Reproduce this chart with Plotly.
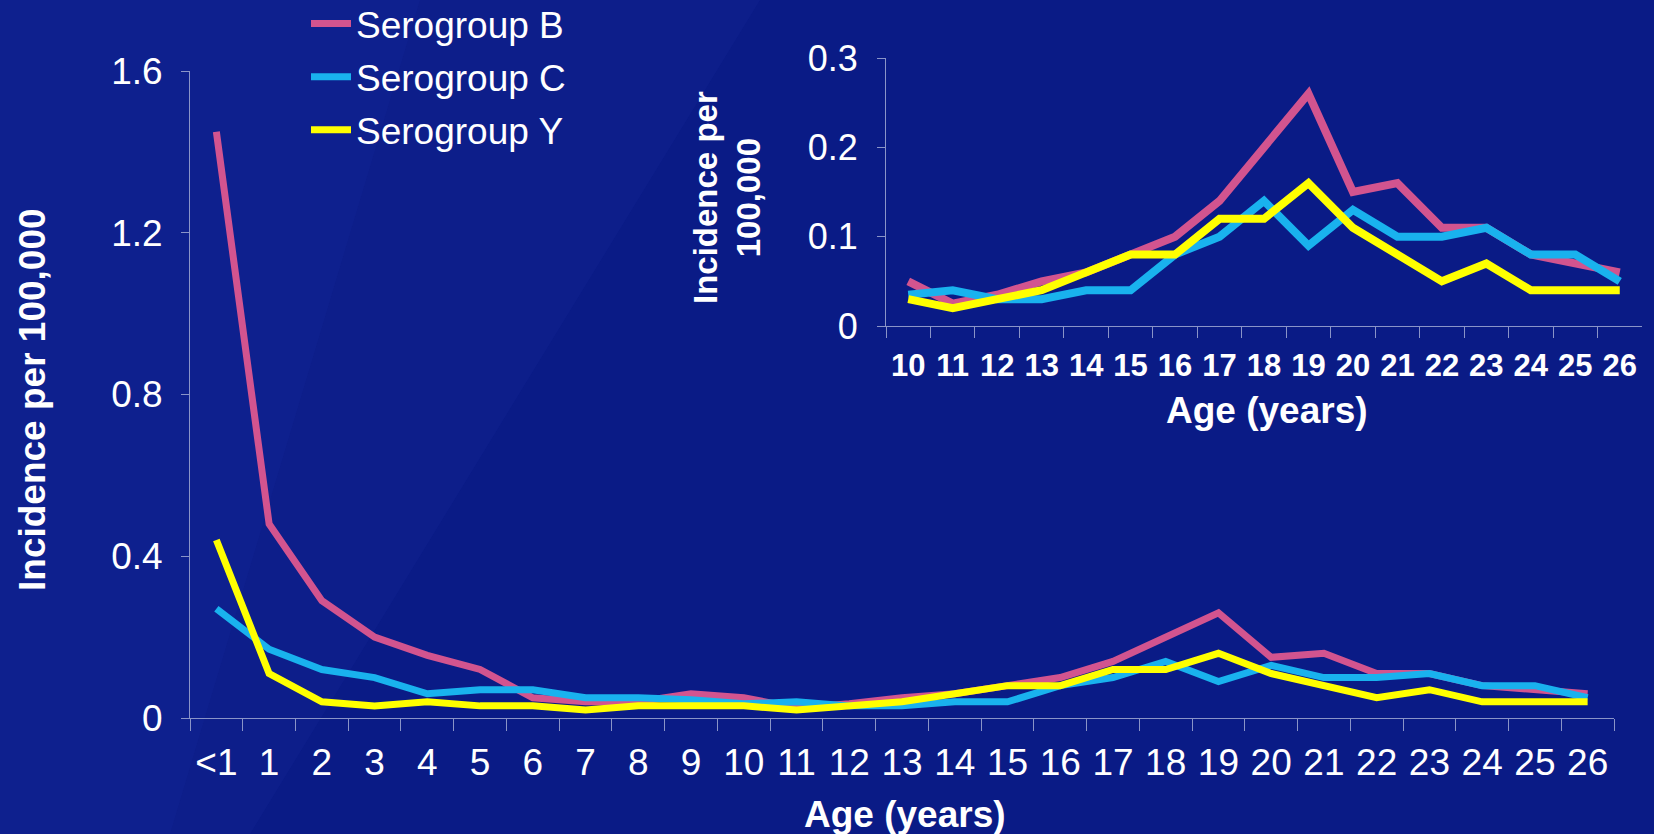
import plotly.graph_objects as go

# ---------------- data ----------------
ages = ["<1"] + [str(i) for i in range(1, 27)]
inset_ages = [str(i) for i in range(10, 27)]

sero_b = [1.45, 0.48, 0.29, 0.20, 0.155, 0.12, 0.05, 0.04, 0.04, 0.06, 0.05, 0.025, 0.035,
          0.05, 0.06, 0.08, 0.10, 0.14, 0.20, 0.26, 0.15, 0.16, 0.11, 0.11, 0.08, 0.07, 0.06]
sero_c = [0.27, 0.17, 0.12, 0.10, 0.06, 0.07, 0.07, 0.05, 0.05, 0.045, 0.035, 0.04, 0.03,
          0.03, 0.04, 0.04, 0.08, 0.10, 0.14, 0.09, 0.13, 0.10, 0.10, 0.11, 0.08, 0.08, 0.05]
sero_y = [0.44, 0.11, 0.04, 0.03, 0.04, 0.03, 0.03, 0.02, 0.03, 0.03, 0.03, 0.02, 0.03,
          0.04, 0.06, 0.08, 0.08, 0.12, 0.12, 0.16, 0.11, 0.08, 0.05, 0.07, 0.04, 0.04, 0.04]

series_names = ["Serogroup B", "Serogroup C", "Serogroup Y"]
series_vals = [sero_b, sero_c, sero_y]
colors = ["#d2548f", "#19b2ee", "#ffff00"]

main_yticks = [0, 0.4, 0.8, 1.2, 1.6]
main_yticktext = ["0", "0.4", "0.8", "1.2", "1.6"]
inset_yticks = [0, 0.1, 0.2, 0.3]
inset_yticktext = ["0", "0.1", "0.2", "0.3"]

# ---------------- figure ----------------
W, H = 1654, 834
BG = "#0a1b86"
AXC = "#8a94c8"
FONT = "Liberation Sans, Arial, sans-serif"

fig = go.Figure()

for name, vals, col in zip(series_names, series_vals, colors):
    fig.add_trace(go.Scatter(
        x=ages, y=vals, mode="lines", name=name,
        line=dict(color=col, width=7), legendgroup=name,
        xaxis="x", yaxis="y"))

start = ages.index("10")
for name, vals, col in zip(series_names, series_vals, colors):
    fig.add_trace(go.Scatter(
        x=inset_ages, y=vals[start:], mode="lines", name=name,
        line=dict(color=col, width=8), showlegend=False,
        xaxis="x2", yaxis="y2"))


def px_x(p):
    return p / W


def px_y(p):
    return 1 - p / H


fig.update_layout(
    width=W, height=H,
    margin=dict(l=0, r=0, t=0, b=0, pad=0, autoexpand=False),
    paper_bgcolor=BG, plot_bgcolor="rgba(0,0,0,0)",
    font=dict(family=FONT, color="white"),
    showlegend=True,
    legend=dict(x=px_x(306), y=px_y(-7), xanchor="left", yanchor="top",
                bgcolor="rgba(0,0,0,0)", font=dict(size=37, color="white"),
                tracegroupgap=2, itemwidth=40),
    xaxis=dict(domain=[px_x(190), px_x(1614)], type="category",
               categoryorder="array", categoryarray=ages,
               range=[-0.5, len(ages) - 0.5],
               showline=True, linecolor=AXC, linewidth=1,
               ticks="outside", tickson="boundaries", ticklen=12, tickcolor=AXC,
               showgrid=False, zeroline=False, tickangle=0,
               tickfont=dict(size=37, color="white"), ticklabelstandoff=12),
    yaxis=dict(domain=[px_y(718), px_y(71)], range=[0, 1.6],
               tickvals=main_yticks, ticktext=main_yticktext,
               showline=True, linecolor=AXC, linewidth=1,
               ticks="outside", ticklen=8, tickcolor=AXC,
               showgrid=False, zeroline=False,
               tickfont=dict(size=37, color="white"), ticklabelstandoff=11),
    xaxis2=dict(domain=[px_x(886), px_x(1642)], anchor="y2", type="category",
                categoryorder="array", categoryarray=inset_ages,
                range=[-0.5, len(inset_ages) - 0.5],
                showline=True, linecolor=AXC, linewidth=1,
                ticks="outside", tickson="boundaries", ticklen=11, tickcolor=AXC,
                showgrid=False, zeroline=False, tickangle=0,
                tickfont=dict(size=31, color="white", weight="bold"),
                ticklabelstandoff=12),
    yaxis2=dict(domain=[px_y(326), px_y(58)], anchor="x2", range=[0, 0.3],
                tickvals=inset_yticks, ticktext=inset_yticktext,
                showline=True, linecolor=AXC, linewidth=1,
                ticks="outside", ticklen=8, tickcolor=AXC,
                showgrid=False, zeroline=False,
                tickfont=dict(size=36, color="white"), ticklabelstandoff=12),
)

# axis titles
fig.add_annotation(text="<b>Age (years)</b>", x=px_x(905), y=px_y(814),
                   xref="paper", yref="paper", showarrow=False,
                   font=dict(size=37, color="white"), xanchor="center", yanchor="middle")
fig.add_annotation(text="<b>Incidence per 100,000</b>", x=px_x(32), y=px_y(400),
                   xref="paper", yref="paper", showarrow=False, textangle=-90,
                   font=dict(size=37, color="white"), xanchor="center", yanchor="middle")
fig.add_annotation(text="<b>Age (years)</b>", x=px_x(1267), y=px_y(410),
                   xref="paper", yref="paper", showarrow=False,
                   font=dict(size=37, color="white"), xanchor="center", yanchor="middle")
fig.add_annotation(text="<b>Incidence per<br>100,000</b>", x=px_x(727), y=px_y(198),
                   xref="paper", yref="paper", showarrow=False, textangle=-90,
                   font=dict(size=33, color="white"), xanchor="center", yanchor="middle")

# subtle diagonal background bands
fig.add_shape(type="path", xref="paper", yref="paper", layer="below",
              path=f"M 0 0 L {px_x(250)} 0 L {px_x(760)} 1 L 0 1 Z",
              fillcolor="rgba(40,70,190,0.09)", line=dict(width=0))
fig.add_shape(type="path", xref="paper", yref="paper", layer="below",
              path=f"M 0 0 L {px_x(170)} 0 L {px_x(420)} 1 L 0 1 Z",
              fillcolor="rgba(40,70,190,0.08)", line=dict(width=0))

fig.write_html(
    "out.html",
    config={"displayModeBar": False},
    post_script="document.body.style.margin='0';document.body.style.background='%s';" % BG,
)
